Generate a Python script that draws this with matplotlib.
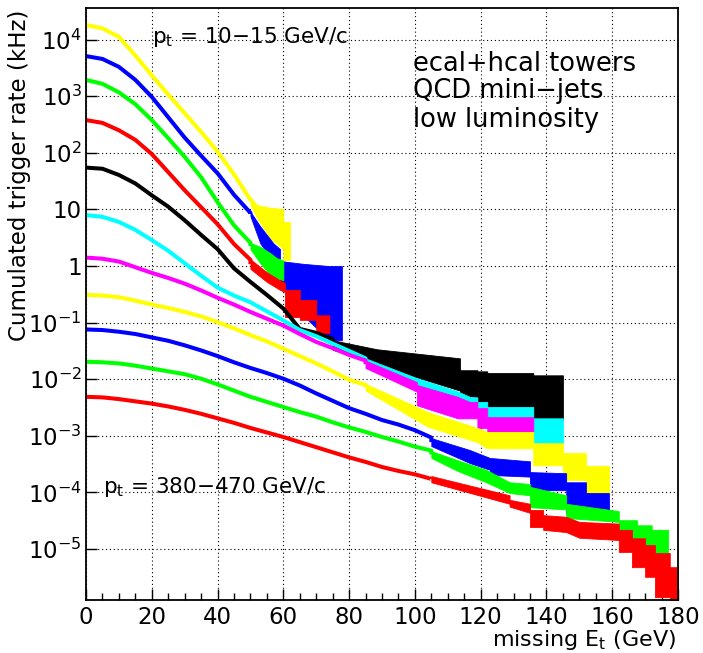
import matplotlib
matplotlib.use("Agg")
import matplotlib.pyplot as plt
import numpy as np

# missing Et grid for the smooth part of the curves (GeV)
x_grid = [0, 5, 10, 15, 20, 25, 30, 35, 40, 45, 50, 55, 60, 65, 70, 75, 80, 85,
          90, 95, 100, 105]

# log10 of cumulated rate (kHz), top curve (pt 10-15) first.
# *_tx / *_hi / *_lo : the tail where the error bars get big (repeated x = step)
yel1_log = [4.26, 4.20, 4.05, 3.72, 3.37, 3.03, 2.70, 2.37, 2.02, 1.62, 1.17]
yel1_tx = [50, 52, 56, 60, 60, 62]
yel1_hi = [1.22, 1.08, 1.03, 1.01, 0.78, 0.78]
yel1_lo = [1.08, 0.85, 0.49, 0.30, 0.11, 0.11]

blu1_log = [3.71, 3.66, 3.52, 3.29, 2.99, 2.63, 2.27, 1.95, 1.64, 1.26, 0.94]
blu1_tx = [50, 53, 57, 59, 59, 66, 74, 77.8]
blu1_hi = [0.96, 0.70, 0.40, 0.30, 0.09, 0.04, 0.0, 0.0]
blu1_lo = [0.88, 0.40, 0.07, 0.0, -0.34, -0.87, -1.31, -1.31]

grn1_log = [3.29, 3.22, 3.07, 2.86, 2.58, 2.26, 1.93, 1.57, 1.13, 0.72, 0.41]
grn1_tx = [50, 53, 56, 58, 60]
grn1_hi = [0.41, 0.34, 0.23, 0.14, 0.10]
grn1_lo = [0.30, 0.05, -0.16, -0.21, -0.25]

red1_log = [2.58, 2.53, 2.40, 2.23, 1.98, 1.66, 1.34, 1.04, 0.74, 0.39, 0.11]
red1_tx = [50, 55, 59, 60.5, 60.5, 65, 65, 70, 70, 74]
red1_hi = [0.12, -0.11, -0.25, -0.30, -0.42, -0.42, -0.60, -0.60, -0.87, -0.87]
red1_lo = [-0.05, -0.28, -0.42, -0.46, -0.90, -0.90, -0.95, -0.95, -1.18, -1.18]

blk_log = [1.74, 1.72, 1.61, 1.46, 1.25, 1.05, 0.81, 0.55, 0.30, -0.04, -0.28,
           -0.51, -0.75, -1.11, -1.18, -1.29]
blk_tx = [75, 88.5, 88.5, 113.7, 113.7, 119, 119, 122, 122, 136, 136, 145]
blk_hi = [-1.31, -1.47, -1.47, -1.63, -1.84, -1.84, -1.86, -1.86, -1.89, -1.89, -1.93, -1.93]
blk_lo = [-1.48, -1.70, -1.75, -2.20, -2.30, -2.35, -2.40, -2.40, -2.54, -2.54, -2.72, -2.72]

cya_log = [0.90, 0.87, 0.78, 0.64, 0.46, 0.27, 0.05, -0.17, -0.38, -0.52, -0.64,
           -0.80, -0.96, -1.13, -1.24, -1.37, -1.50, -1.63]
cya_tx = [85, 100.6, 100.6, 112.8, 116.7, 116.7, 119, 119, 122, 122, 136, 136, 145]
cya_hi = [-1.63, -1.98, -1.98, -2.21, -2.31, -2.31, -2.32, -2.40, -2.40, -2.49, -2.49,
          -2.69, -2.69]
cya_lo = [-1.80, -2.16, -2.16, -2.37, -2.40, -2.40, -2.45, -2.54, -2.54, -2.72, -2.72,
          -3.13, -3.13]

mag_log = [0.15, 0.13, 0.08, -0.02, -0.12, -0.21, -0.31, -0.43, -0.56, -0.68, -0.81,
           -0.93, -1.05, -1.20, -1.34, -1.45, -1.57, -1.67]
mag_tx = [85, 100.6, 100.6, 113, 116.7, 119, 119, 122, 122, 136]
mag_hi = [-1.67, -2.05, -2.10, -2.31, -2.40, -2.40, -2.51, -2.51, -2.67, -2.67]
mag_lo = [-1.80, -2.22, -2.46, -2.69, -2.69, -2.69, -2.86, -2.86, -2.93, -2.93]

yel2_log = [-0.51, -0.52, -0.55, -0.61, -0.68, -0.74, -0.81, -0.89, -0.99, -1.10, -1.22,
            -1.33, -1.46, -1.59, -1.72, -1.86, -2.01, -2.10]
yel2_tx = [85, 104, 119, 122, 122, 136, 136, 145, 145, 152, 152, 159]
yel2_hi = [-2.08, -2.58, -2.86, -2.93, -2.93, -2.93, -3.13, -3.13, -3.30, -3.30, -3.53, -3.53]
yel2_lo = [-2.20, -2.84, -3.11, -3.22, -3.22, -3.22, -3.52, -3.52, -3.78, -3.78, -4.05, -4.05]

blu2_log = [-1.12, -1.13, -1.16, -1.20, -1.26, -1.32, -1.40, -1.49, -1.59, -1.70, -1.80,
            -1.89, -1.99, -2.11, -2.25, -2.38, -2.51, -2.61, -2.72, -2.80, -2.90, -3.03]
blu2_tx = [105, 116.7, 122.8, 122.8, 135, 135, 146, 146, 152, 152, 159]
blu2_hi = [-3.04, -3.25, -3.39, -3.39, -3.45, -3.64, -3.66, -3.82, -3.82, -4.01, -4.01]
blu2_lo = [-3.18, -3.48, -3.60, -3.69, -3.72, -3.96, -3.96, -4.36, -4.36, -4.36, -4.36]

grn2_log = [-1.69, -1.70, -1.72, -1.76, -1.81, -1.86, -1.91, -1.99, -2.09, -2.20, -2.31,
            -2.40, -2.49, -2.58, -2.66, -2.76, -2.85, -2.93, -3.02, -3.10, -3.19, -3.26]
grn2_tx = [105, 113, 121.7, 128.8, 135, 135, 146, 146, 162, 162, 167.5, 167.5, 172, 172, 177]
grn2_hi = [-3.27, -3.43, -3.60, -3.82, -3.85, -3.90, -4.05, -4.20, -4.33, -4.49, -4.49,
           -4.58, -4.58, -4.66, -4.66]
grn2_lo = [-3.39, -3.62, -3.82, -4.01, -4.05, -4.26, -4.30, -4.45, -4.52, -4.84, -4.84,
           -4.93, -4.93, -5.07, -5.07]

red2_log = [-2.31, -2.32, -2.35, -2.39, -2.43, -2.48, -2.54, -2.61, -2.69, -2.77, -2.86,
            -2.94, -3.02, -3.11, -3.20, -3.29, -3.38, -3.46, -3.55, -3.62, -3.68, -3.76]
red2_tx = [105, 128.8, 128.8, 135, 135, 139, 139, 146, 150, 162, 162, 166, 166, 170, 170,
           173, 173, 177.5, 177.5, 180]
red2_hi = [-3.71, -4.05, -4.13, -4.20, -4.31, -4.31, -4.40, -4.43, -4.52, -4.55, -4.66,
           -4.66, -4.81, -4.81, -4.93, -4.93, -5.07, -5.07, -5.32, -5.32]
red2_lo = [-3.82, -4.20, -4.25, -4.36, -4.61, -4.61, -4.66, -4.70, -4.80, -4.84, -5.05,
           -5.05, -5.32, -5.32, -5.49, -5.49, -5.85, -5.85, -6.00, -6.00]

curves = [
    ("#ffff00", yel1_log, yel1_tx, yel1_hi, yel1_lo),
    ("#0000ff", blu1_log, blu1_tx, blu1_hi, blu1_lo),
    ("#00ff00", grn1_log, grn1_tx, grn1_hi, grn1_lo),
    ("#ff0000", red1_log, red1_tx, red1_hi, red1_lo),
    ("#000000", blk_log, blk_tx, blk_hi, blk_lo),
    ("#00ffff", cya_log, cya_tx, cya_hi, cya_lo),
    ("#ff00ff", mag_log, mag_tx, mag_hi, mag_lo),
    ("#ffff00", yel2_log, yel2_tx, yel2_hi, yel2_lo),
    ("#0000ff", blu2_log, blu2_tx, blu2_hi, blu2_lo),
    ("#00ff00", grn2_log, grn2_tx, grn2_hi, grn2_lo),
    ("#ff0000", red2_log, red2_tx, red2_hi, red2_lo),
]

plt.rcParams['mathtext.fontset'] = 'dejavusans'
plt.rcParams['font.family'] = 'DejaVu Sans'

W, H = 703, 653
fig = plt.figure(figsize=(W / 100, H / 100), dpi=100)
ax = fig.add_axes([86 / W, 53 / H, 592 / W, 592 / H])
ax.set_yscale('log')

for i, (col, logs, tx, hi, lo) in enumerate(curves):
    xs = x_grid[:len(logs)] + [tx[0]]
    ys = 10 ** np.array(logs + [(hi[0] + lo[0]) / 2])
    ax.plot(xs, ys, color=col, lw=2.9, solid_capstyle='butt', zorder=3 + i)
    ax.fill_between(tx, 10 ** np.array(lo), 10 ** np.array(hi), color=col, lw=0.6,
                    edgecolor=col, zorder=3 + i)

ax.set_xlim(0, 180)
ax.set_ylim(10 ** -5.9, 10 ** 4.56)

ax.set_xticks(range(0, 181, 20))
ax.set_xticks(range(0, 181, 5), minor=True)
yt = [1e-5, 1e-4, 1e-3, 1e-2, 1e-1, 1, 10, 1e2, 1e3, 1e4]
ylabels = [r'$10^{-5}$', r'$10^{-4}$', r'$10^{-3}$', r'$10^{-2}$', r'$10^{-1}$',
           '1', '10', r'$10^{2}$', r'$10^{3}$', r'$10^{4}$']
ax.set_yticks(yt)
ax.set_yticklabels(ylabels)
ax.tick_params(axis='both', which='major', direction='in', length=8, width=1,
               labelsize=16.5, top=False, right=False)
ax.tick_params(axis='both', which='minor', direction='in', length=5, width=1,
               top=False, right=False)
ax.tick_params(axis='x', pad=4)
ax.tick_params(axis='y', pad=3)

ax.grid(True, which='major', color='black', linestyle=(0, (1, 2.5)), lw=0.8, zorder=1)
for s in ax.spines.values():
    s.set_linewidth(1.3)
    s.set_zorder(20)

fig.text(20 / W, 1 - 10 / H, 'Cumulated trigger rate (kHz)', rotation=90,
         ha='center', va='top', fontsize=16.5)
fig.text(676 / W, 1 - 646 / H, r'missing E$_\mathrm{t}$ (GeV)', ha='right',
         va='baseline', fontsize=16)

fig.text(152 / W, 1 - 43 / H, r'p$_\mathrm{t}$ = 10−15 GeV/c', fontsize=15.5,
         va='baseline')
fig.text(103 / W, 1 - 493 / H, r'p$_\mathrm{t}$ = 380−470 GeV/c', fontsize=15.5,
         va='baseline')
for txt, yb in [('ecal+hcal towers', 71), ('QCD mini−jets', 98), ('low luminosity', 127)]:
    fig.text(413 / W, 1 - yb / H, txt, fontsize=18.5, va='baseline')

fig.savefig('out.png', dpi=100)
